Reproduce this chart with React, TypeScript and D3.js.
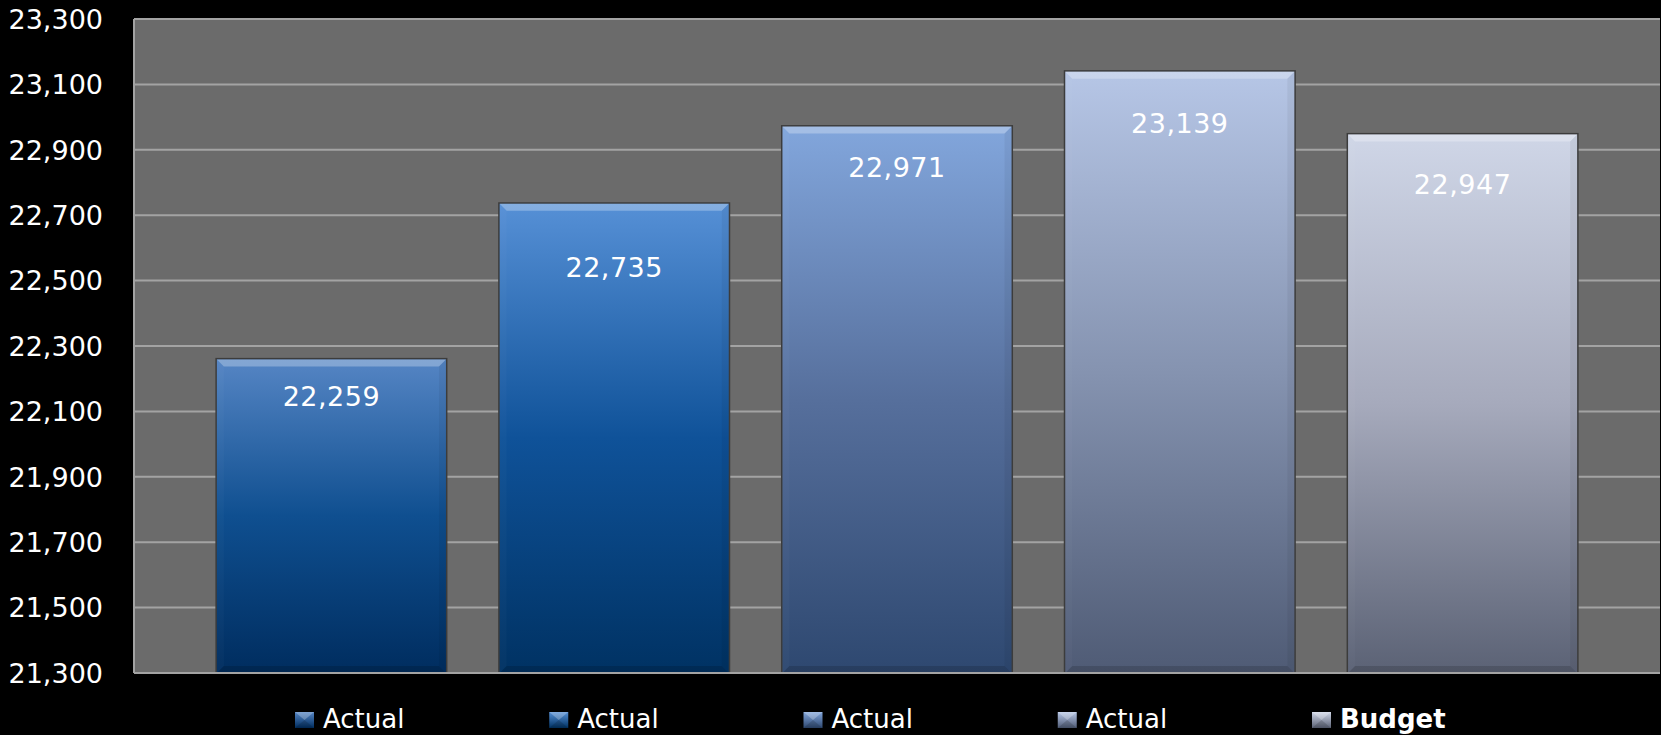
import React from "react";
import * as d3 from "d3";

const categories = ["Actual 1", "Actual 2", "Actual 3", "Actual 4", "Budget"];
const values = [22259, 22735, 22971, 23139, 22947];
const legendLabels = ["Actual", "Actual", "Actual", "Actual", "Budget"];
const yTicks = [21300, 21500, 21700, 21900, 22100, 22300, 22500, 22700, 22900, 23100, 23300];

// style arrays (gradient stops: top, middle, bottom)
const barColors = [
  ["#5585c4", "#0f4f90", "#002d5f"],
  ["#5690d6", "#0f5299", "#003263"],
  ["#82a6dc", "#566f9c", "#2e4870"],
  ["#b6c6e6", "#8593b0", "#4f5b75"],
  ["#cfd6e7", "#a6aabc", "#5b6275"],
];
const labelOffsets = [37, 64, 41, 52, 50];
const boldLegend = [false, false, false, false, true];

const W = 1661;
const H = 735;
const plot = { left: 134, right: 1660, top: 19, bottom: 673 };
const FONT = "'DejaVu Sans', 'Open Sans', sans-serif";

export default function App() {
  const y = d3.scaleLinear().domain([21300, 23300]).range([plot.bottom, plot.top]);
  const x = d3
    .scaleBand<string>()
    .domain(categories)
    .range([190, 1604])
    .paddingInner(0.19)
    .paddingOuter(0.095);
  const fmt = d3.format(",");
  const bw = x.bandwidth();
  const b = 7;

  const legendX = d3.scaleLinear().domain([0, 4]).range([295, 1312]);

  return (
    <div style={{ position: "fixed", left: 0, top: 0, width: W, height: H, background: "#000" }}>
      <svg width={W} height={H} style={{ display: "block" }}>
        <defs>
          {barColors.map((c, i) => (
            <linearGradient key={i} id={`g${i}`} x1="0" y1="0" x2="0" y2="1">
              <stop offset="0" stopColor={c[0]} />
              <stop offset="0.5" stopColor={c[1]} />
              <stop offset="1" stopColor={c[2]} />
            </linearGradient>
          ))}
          {barColors.map((c, i) => (
            <linearGradient key={"l" + i} id={`lg${i}`} x1="0" y1="0" x2="0" y2="1">
              <stop offset="0" stopColor={c[0]} />
              <stop offset="1" stopColor={c[2]} />
            </linearGradient>
          ))}
        </defs>
        <rect x={0} y={0} width={W} height={H} fill="#000" />
        <rect
          x={plot.left}
          y={plot.top}
          width={plot.right - plot.left}
          height={plot.bottom - plot.top}
          fill="#6b6b6b"
        />
        {yTicks.map((t) => (
          <line
            key={t}
            x1={plot.left}
            x2={plot.right}
            y1={y(t)}
            y2={y(t)}
            stroke="#a3a3a3"
            strokeWidth={2}
          />
        ))}
        <line x1={plot.left} x2={plot.left} y1={plot.top} y2={plot.bottom} stroke="#a3a3a3" strokeWidth={2} />
        {yTicks.map((t) => (
          <text
            key={"t" + t}
            x={103}
            y={y(t)}
            dy="0.36em"
            textAnchor="end"
            fill="#fff"
            fontFamily={FONT}
            fontSize={27}
          >
            {fmt(t)}
          </text>
        ))}
        {categories.map((c, i) => {
          const bx = x(c) as number;
          const by = y(values[i]);
          const bh = plot.bottom - by;
          return (
            <g key={c}>
              <rect x={bx - 1.5} y={by - 1.5} width={bw + 3} height={bh + 1.5} fill="#3c3c3c" />
              <rect x={bx} y={by} width={bw} height={bh} fill={`url(#g${i})`} />
              <polygon
                points={`${bx},${by} ${bx + bw},${by} ${bx + bw - b},${by + b} ${bx + b},${by + b}`}
                fill="#fff"
                opacity={0.28}
              />
              <polygon
                points={`${bx},${by} ${bx + b},${by + b} ${bx + b},${by + bh - b} ${bx},${by + bh}`}
                fill="#fff"
                opacity={0.025}
              />
              <polygon
                points={`${bx + bw},${by} ${bx + bw - b},${by + b} ${bx + bw - b},${by + bh - b} ${bx + bw},${by + bh}`}
                fill="#000"
                opacity={0.05}
              />
              <polygon
                points={`${bx},${by + bh} ${bx + b},${by + bh - b} ${bx + bw - b},${by + bh - b} ${bx + bw},${by + bh}`}
                fill="#000"
                opacity={0.15}
              />
              <text
                x={bx + bw / 2}
                y={by + labelOffsets[i]}
                dy="0.36em"
                textAnchor="middle"
                fill="#fff"
                fontFamily={FONT}
                fontSize={27}
                letterSpacing={0.5}
              >
                {fmt(values[i])}
              </text>
            </g>
          );
        })}
        <line x1={plot.left} x2={plot.right} y1={plot.bottom} y2={plot.bottom} stroke="#a3a3a3" strokeWidth={2} />
        {legendLabels.map((l, i) => {
          const lx = legendX(i);
          const ly = 712;
          const mw = 19;
          const mh = 16;
          return (
            <g key={"lg" + i}>
              <rect x={lx} y={ly} width={mw} height={mh} fill={`url(#lg${i})`} />
              <polygon
                points={`${lx},${ly} ${lx + mw},${ly} ${lx + mw / 2},${ly + mh / 2}`}
                fill="#fff"
                opacity={0.25}
              />
              <polygon
                points={`${lx},${ly + mh} ${lx + mw},${ly + mh} ${lx + mw / 2},${ly + mh / 2}`}
                fill="#000"
                opacity={0.15}
              />
              <text
                x={lx + 28}
                y={728}
                fill="#fff"
                fontFamily={FONT}
                fontSize={26}
                fontWeight={boldLegend[i] ? "bold" : "normal"}
              >
                {l}
              </text>
            </g>
          );
        })}
      </svg>
    </div>
  );
}
